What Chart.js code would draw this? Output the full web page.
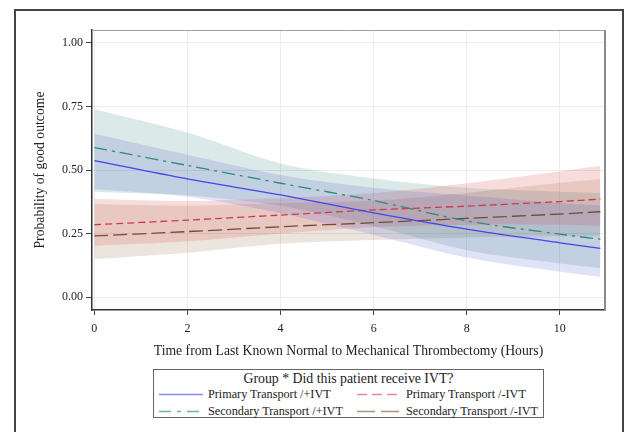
<!DOCTYPE html>
<html>
<head>
<meta charset="utf-8">
<script src="https://cdn.jsdelivr.net/npm/chart.js@4"></script>
<style>
  body { margin: 0; background: #fff; font-family: "Liberation Serif", serif; }
  #wrap { position: relative; width: 624px; height: 432px; overflow: hidden; }
  #frame { position: absolute; left: 14px; top: 9px; width: 606px; height: 440px; border: 2px solid #444; }
  #chart { position: absolute; left: 0; top: 0; }
  #legend { position: absolute; left: 153px; top: 369px; width: 389px; height: 47px; border: 1px solid #666;
            font-size: 12.2px; color: #222; }
  #legend .title { text-align: center; font-size: 13.8px; margin-top: 1px; line-height: 16px; }
  #legend .item { position: absolute; height: 16px; line-height: 16px; white-space: nowrap; }
  #legend svg { position: absolute; left: 0; top: 7px; }
  #legend span { position: absolute; left: 49px; top: 0; }
</style>
</head>
<body>
<div id="wrap">
  <div id="frame"></div>
  <canvas id="chart" width="624" height="362"></canvas>
  <div id="legend"></div>
</div>
<script>
// Hours since last known normal
const hours = [0, 2, 4, 6, 8, 10, 10.87];

// Predicted probability of good outcome
const primaryIvt = [0.537, 0.465, 0.402, 0.332, 0.268, 0.214, 0.192];
const primaryNoIvt = [0.285, 0.303, 0.323, 0.343, 0.358, 0.376, 0.386];
const secondaryIvt = [0.588, 0.518, 0.448, 0.38, 0.30, 0.248, 0.228];
const secondaryNoIvt = [0.241, 0.258, 0.277, 0.293, 0.31, 0.327, 0.336];

// Confidence limits
const primaryIvtUpper = [0.642, 0.56, 0.48, 0.43, 0.40, 0.37, 0.36];
const primaryIvtLower = [0.424, 0.395, 0.33, 0.245, 0.156, 0.10, 0.08];
const primaryNoIvtUpper = [0.386, 0.378, 0.39, 0.41, 0.448, 0.495, 0.517];
const primaryNoIvtLower = [0.202, 0.22, 0.25, 0.275, 0.285, 0.285, 0.28];
const secondaryIvtUpper = [0.739, 0.647, 0.526, 0.467, 0.43, 0.415, 0.41];
const secondaryIvtLower = [0.415, 0.40, 0.36, 0.28, 0.185, 0.133, 0.115];
const secondaryNoIvtUpper = [0.366, 0.36, 0.37, 0.38, 0.41, 0.45, 0.465];
const secondaryNoIvtLower = [0.15, 0.175, 0.21, 0.225, 0.235, 0.24, 0.24];

const xTicks = [0, 2, 4, 6, 8, 10];
const yTicks = [0, 0.25, 0.5, 0.75, 1];

const groups = [
  { label: 'Primary Transport /+IVT', values: primaryIvt, upper: primaryIvtUpper, lower: primaryIvtLower,
    color: '#4545e8', legendColor: '#8a8af2', band: 'rgba(60,80,200,0.16)', dash: [], legendDash: [] },
  { label: 'Primary Transport /-IVT', values: primaryNoIvt, upper: primaryNoIvtUpper, lower: primaryNoIvtLower,
    color: '#cc3a4c', legendColor: '#e08a96', band: 'rgba(220,80,80,0.2)', dash: [7, 4], legendDash: [10, 5] },
  { label: 'Secondary Transport /+IVT', values: secondaryIvt, upper: secondaryIvtUpper, lower: secondaryIvtLower,
    color: '#2b8c7a', legendColor: '#6fb0a6', band: 'rgba(1,102,94,0.14)', dash: [13, 5, 3, 5], legendDash: [12, 6, 4, 6] },
  { label: 'Secondary Transport /-IVT', values: secondaryNoIvt, upper: secondaryNoIvtUpper, lower: secondaryNoIvtLower,
    color: '#6b4f33', legendColor: '#ac957c', band: 'rgba(150,110,70,0.18)', dash: [14, 5], legendDash: [18, 6] }
];

const pts = ys => hours.map((x, i) => ({ x: x, y: ys[i] }));

// lines first so they draw on top, then band pairs
const datasets = groups.map(g => ({
  data: pts(g.values), borderColor: g.color, borderWidth: 1.3, borderDash: g.dash,
  pointRadius: 0, tension: 0.3, fill: false
}));
groups.forEach(g => {
  const lowerIndex = datasets.length + 1;
  datasets.push({ data: pts(g.upper), borderWidth: 0, pointRadius: 0, tension: 0.3,
    backgroundColor: g.band, fill: lowerIndex });
  datasets.push({ data: pts(g.lower), borderWidth: 0, pointRadius: 0, tension: 0.3, fill: false });
});

const frameLines = {
  id: 'frameLines',
  afterDraw(chart) {
    const { ctx, chartArea: a } = chart;
    ctx.save();
    ctx.strokeStyle = '#a0a0a0';
    ctx.lineWidth = 1;
    ctx.beginPath();
    ctx.moveTo(a.left, a.top + 0.5);
    ctx.lineTo(a.right, a.top + 0.5);
    ctx.stroke();
    ctx.strokeStyle = '#8a8a8a';
    ctx.lineWidth = 2;
    ctx.beginPath();
    ctx.moveTo(a.right, a.top);
    ctx.lineTo(a.right, a.bottom);
    ctx.stroke();
    ctx.restore();
  }
};

const tickFont = { family: 'Liberation Serif', size: 12 };
const titleFont = { family: 'Liberation Serif', size: 13.7 };

new Chart(document.getElementById('chart'), {
  type: 'line',
  data: { datasets: datasets },
  options: {
    responsive: false,
    animation: false,
    layout: { padding: { left: 28, top: 30, right: 19, bottom: 0 } },
    plugins: { legend: { display: false }, tooltip: { enabled: false } },
    scales: {
      x: {
        type: 'linear', min: -0.05, max: 10.97,
        afterBuildTicks: s => { s.ticks = xTicks.map(v => ({ value: v })); },
        afterFit: s => { s.height = 52; },
        ticks: { font: tickFont, color: '#222', padding: 7, maxRotation: 0,
          callback: v => String(v) },
        grid: { color: '#ececec', tickColor: '#444', tickLength: 5 },
        border: { color: '#333', width: 1.5 },
        title: { display: true, text: 'Time from Last Known Normal to Mechanical Thrombectomy (Hours)',
          font: titleFont, color: '#222', padding: { top: 0, bottom: 2 } }
      },
      y: {
        min: -0.05, max: 1.05,
        afterBuildTicks: s => { s.ticks = yTicks.map(v => ({ value: v })); },
        afterFit: s => { s.width = 64; },
        ticks: { font: tickFont, color: '#222', padding: 3, callback: v => v.toFixed(2) },
        grid: { color: '#ececec', tickColor: '#444', tickLength: 6 },
        border: { color: '#333', width: 1.5 },
        title: { display: true, text: 'Probability of good outcome', font: titleFont, color: '#222',
          padding: { top: 4, bottom: 0 } }
      }
    }
  },
  plugins: [frameLines]
});

// legend box
const legend = document.getElementById('legend');
legend.innerHTML = '<div class="title">Group * Did this patient receive IVT?</div>';
const slots = [[5, 16], [203, 16], [5, 33], [203, 33]];
groups.forEach((g, i) => {
  const item = document.createElement('div');
  item.className = 'item';
  item.style.left = slots[i][0] + 'px';
  item.style.top = slots[i][1] + 'px';
  const dash = g.legendDash.length ? ' stroke-dasharray="' + g.legendDash.join(' ') + '"' : '';
  item.innerHTML = '<svg width="44" height="3"><line x1="0" y1="1.5" x2="44" y2="1.5" stroke="' +
    g.legendColor + '" stroke-width="1.5"' + dash + '/></svg><span>' + g.label + '</span>';
  legend.appendChild(item);
});
</script>
</body>
</html>
